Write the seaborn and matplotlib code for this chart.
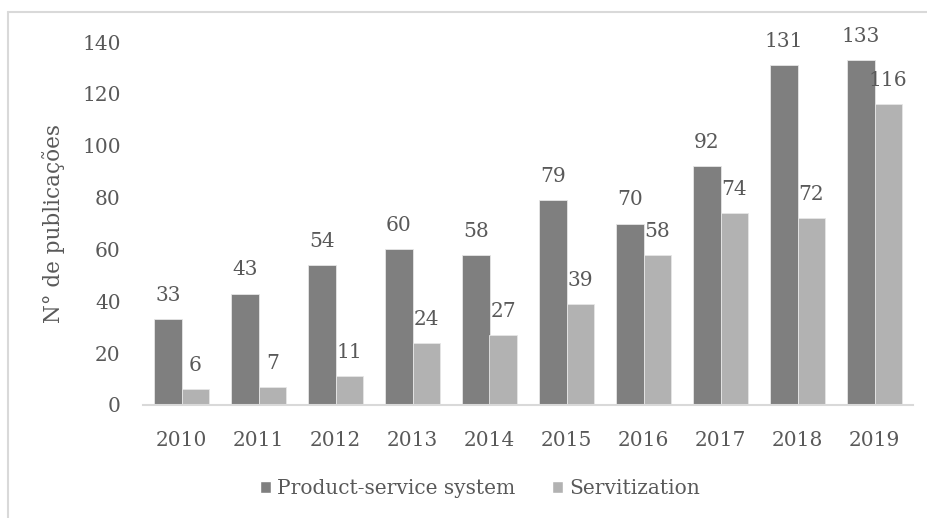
import pandas as pd
import matplotlib.pyplot as plt
import seaborn as sns
from matplotlib.lines import Line2D

# Data
years = ['2010', '2011', '2012', '2013', '2014', '2015', '2016', '2017', '2018', '2019']
pss = [33, 43, 54, 60, 58, 79, 70, 92, 131, 133]
servitization = [6, 7, 11, 24, 27, 39, 58, 74, 72, 116]
series_names = ['Product-service system', 'Servitization']
yticks = [0, 20, 40, 60, 80, 100, 120, 140]

df = pd.DataFrame({
    'year': years * 2,
    'count': pss + servitization,
    'serie': [series_names[0]] * len(years) + [series_names[1]] * len(years),
})

sns.set_style('white')
plt.rcParams['font.family'] = ['DejaVu Serif']
text_color = '#595959'

fig = plt.figure(figsize=(9.28, 5.18), dpi=100)
ax = fig.add_axes([143 / 928, 1 - 405 / 518, (913 - 143) / 928, (405 - 42) / 518])

sns.barplot(data=df, x='year', y='count', hue='serie', order=years,
            hue_order=series_names, palette=['#7f7f7f', '#b2b2b2'],
            width=0.714, gap=0, saturation=1, ax=ax, legend=True)

# Data labels
for container in ax.containers:
    for bar in container:
        bar.set_edgecolor('#e6e6e6')
        bar.set_linewidth(0.6)
        h = bar.get_height()
        ax.annotate(f'{int(h)}', (bar.get_x() + bar.get_width() / 2, h),
                    xytext=(0, 13), textcoords='offset points',
                    ha='center', va='baseline', fontsize=14.5, color=text_color)

ax.set_ylim(0, 140)
ax.set_xlim(-0.5, len(years) - 0.5)
ax.set_yticks(yticks)
ax.set_xlabel('')
ax.set_ylabel('N° de publicações', fontsize=15.5, color=text_color, labelpad=12)
ax.tick_params(axis='y', length=0, pad=16, labelsize=14.5, labelcolor=text_color)
ax.tick_params(axis='x', length=0, pad=19, labelsize=14.5, labelcolor=text_color)

for side in ['top', 'right', 'left']:
    ax.spines[side].set_visible(False)
ax.spines['bottom'].set_color('#d9d9d9')
ax.spines['bottom'].set_linewidth(1.5)

ax.legend_.remove()
fig.legend(*ax.get_legend_handles_labels(), loc='center',
           bbox_to_anchor=(480 / 928, 1 - 489 / 518), ncol=2, frameon=False,
           fontsize=14.5, labelcolor=text_color, handlelength=0.55,
           handleheight=0.55, handletextpad=0.3, columnspacing=1.8)

# Chart area border (top and left visible)
fig.add_artist(Line2D([8 / 928, 1], [1 - 12 / 518, 1 - 12 / 518], color='#d9d9d9', lw=1.5))
fig.add_artist(Line2D([8 / 928, 8 / 928], [0, 1 - 12 / 518], color='#d9d9d9', lw=1.5))

fig.savefig('out.png', dpi=100)
